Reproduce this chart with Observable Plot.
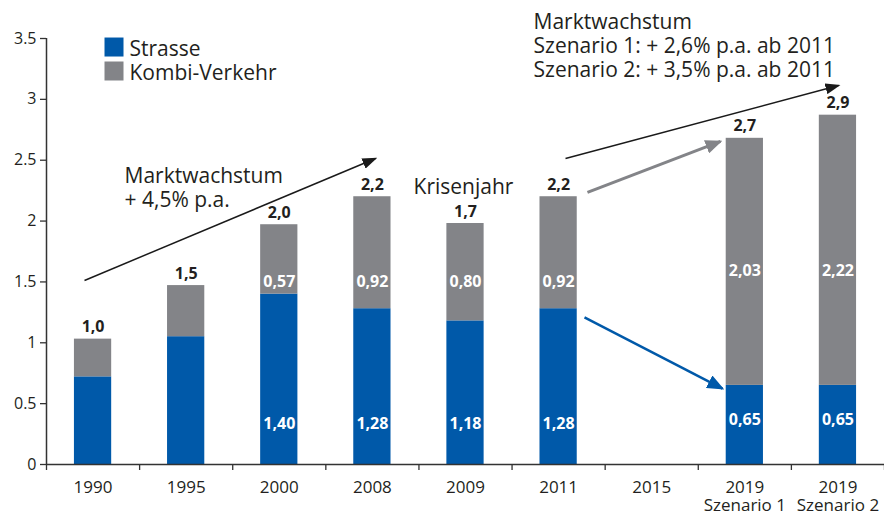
<!DOCTYPE html>
<html><head><meta charset="utf-8">
<script src="https://cdn.jsdelivr.net/npm/d3@7"></script>
<script src="https://cdn.jsdelivr.net/npm/@observablehq/plot@0.6"></script>
<style>body{margin:0;background:#fff} svg{display:block}</style>
</head><body><div id="chart"></div>
<script>
const categories = ["1990","1995","2000","2008","2009","2011","2015","2019\nSzenario 1","2019\nSzenario 2"];
const strasse = [0.72, 1.05, 1.40, 1.28, 1.18, 1.28, null, 0.65, 0.65];
const kombi   = [0.31, 0.42, 0.57, 0.92, 0.80, 0.92, null, 2.03, 2.22];
const totalLabels   = ["1,0","1,5","2,0","2,2","1,7","2,2",null,"2,7","2,9"];
const strasseLabels = [null,null,"1,40","1,28","1,18","1,28",null,"0,65","0,65"];
const kombiLabels   = [null,null,"0,57","0,92","0,80","0,92",null,"2,03","2,22"];
const yTicks = [0,0.5,1,1.5,2,2.5,3,3.5];
const series = ["Strasse","Kombi-Verkehr"];
const colors = ["#0059a9","#838488"];

// annotations (x in category-index units, y in value units)
const notes = [
  {x:0.838, y:2.367, text:"Marktwachstum"},
  {x:0.838, y:2.170, text:"+ 4,5% p.a."},
  {x:3.942, y:2.276, text:"Krisenjahr"},
  {x:5.231, y:3.632, text:"Marktwachstum"},
  {x:5.231, y:3.435, text:"Szenario 1: + 2,6% p.a. ab 2011"},
  {x:5.231, y:3.238, text:"Szenario 2: + 3,5% p.a. ab 2011"}
];
const arrows = [
  {x1:0.408, y1:1.512, x2:3.533, y2:2.514, color:"#1a1a1a", w:1.5, len:13, half:5.5},
  {x1:5.574, y1:2.514, x2:8.506, y2:3.114, color:"#1a1a1a", w:1.5, len:13, half:5.5},
  {x1:5.81,  y1:2.235, x2:7.239, y2:2.654, color:"#838488", w:3,   len:15, half:7},
  {x1:5.778, y1:1.208, x2:7.26,  y2:0.624, color:"#0059a9", w:2.5, len:15, half:7}
];

const idx = d3.range(categories.length);
const rows = [];
idx.forEach(i => {
  if (strasse[i] == null) return;
  rows.push({i, type: series[0], y1: 0, y2: strasse[i]});
  rows.push({i, type: series[1], y1: strasse[i], y2: strasse[i] + kombi[i]});
});
const has = idx.filter(i => strasse[i] != null);

function headMarker(len, half) {
  return (color) => {
    const ns = "http://www.w3.org/2000/svg";
    const m = document.createElementNS(ns, "marker");
    m.setAttribute("viewBox", `${-len} ${-half} ${len + 2} ${2 * half}`);
    m.setAttribute("markerWidth", len + 2);
    m.setAttribute("markerHeight", 2 * half);
    m.setAttribute("markerUnits", "userSpaceOnUse");
    m.setAttribute("orient", "auto");
    m.setAttribute("refX", 0);
    m.setAttribute("refY", 0);
    const p = document.createElementNS(ns, "path");
    p.setAttribute("d", `M${-len},${-half}L2,0L${-len},${half}Z`);
    p.setAttribute("fill", color);
    p.setAttribute("stroke", "none");
    m.appendChild(p);
    return m;
  };
}

const textColor = "#231f20";
const marks = [
  Plot.rectY(rows, {x1: d => d.i + 0.3, x2: d => d.i + 0.7, y1: "y1", y2: "y2", fill: "type"}),
  Plot.ruleX([0], {y1: 0, y2: 3.5, stroke: "#333", strokeWidth: 1.5}),
  Plot.ruleY([0], {stroke: "#333", strokeWidth: 1.5}),
  Plot.axisY(yTicks, {tickSize: 6, tickPadding: 4, fontSize: 16, label: null, stroke: "#333", strokeWidth: 1.3, fill: textColor, tickFormat: d => String(d)}),
  Plot.axisX(d3.range(0, 10), {tickSize: 6, label: null, stroke: "#333", strokeWidth: 1.3, tickFormat: () => ""}),
  Plot.axisX(idx.map(i => i + 0.5), {tickSize: 0, tickPadding: 15, fontSize: 17, lineHeight: 1.08, label: null, fill: textColor,
    tickFormat: d => categories[Math.round(d - 0.5)]}),
  Plot.text(has, {x: i => i + 0.5, y: i => strasse[i] + kombi[i], text: i => totalLabels[i], dy: -12, fontWeight: "bold", fontSize: 16, fill: textColor}),
  Plot.text(has.filter(i => strasseLabels[i]), {x: i => i + 0.5, y: i => (i >= 7 ? 0.37 : 0.33), text: i => strasseLabels[i], fontWeight: "bold", fontSize: 16, fill: "white"}),
  Plot.text(has.filter(i => kombiLabels[i]), {x: i => i + 0.5, y: i => (i >= 7 ? 1.59 : 1.5), text: i => kombiLabels[i], fontWeight: "bold", fontSize: 16, fill: "white"}),
  Plot.dot(series, {x: 0.725, y: (d, i) => 3.43 - i * 0.197, symbol: "square", r: 10.72, fill: d => d, stroke: null}),
  Plot.text(series, {x: 0.891, y: (d, i) => 3.415 - i * 0.197, text: d => d, textAnchor: "start", fontSize: 21, fill: textColor}),
  Plot.text(notes, {x: "x", y: "y", text: "text", textAnchor: "start", fontSize: 21, fill: textColor}),
  ...arrows.map(a => Plot.link([a], {x1: "x1", y1: "y1", x2: "x2", y2: "y2", stroke: a.color, strokeWidth: a.w, markerEnd: headMarker(a.len, a.half)}))
];

const chart = Plot.plot({
  width: 884, height: 513,
  marginLeft: 46, marginRight: 0, marginTop: 38, marginBottom: 49,
  x: {domain: [0, 9], axis: null},
  y: {domain: [0, 3.5], axis: null},
  color: {domain: series, range: colors},
  style: {fontFamily: "'Open Sans', sans-serif", overflow: "visible", background: "white"},
  marks
});
document.getElementById("chart").appendChild(chart);
</script>
</body></html>
